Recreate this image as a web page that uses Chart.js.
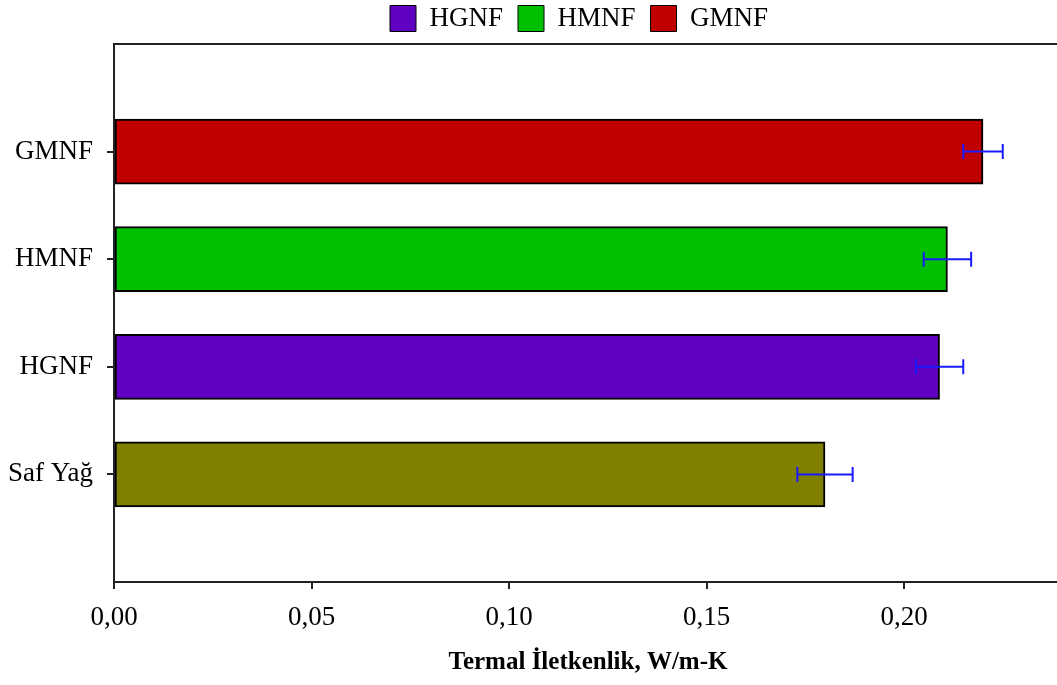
<!DOCTYPE html>
<html>
<head>
<meta charset="utf-8">
<script src="https://cdn.jsdelivr.net/npm/chart.js@4.4.1/dist/chart.umd.min.js"></script>
<style>
  html, body { margin: 0; padding: 0; background: #fff; overflow: hidden; }
  #caja { width: 1062px; height: 685px; }
</style>
</head>
<body>
<div id="caja"><canvas id="miGrafica"></canvas></div>
<script>
// datos de conductividad termica (de arriba hacia abajo)
let categorias = ["GMNF", "HMNF", "HGNF", "Saf Yağ"]
let valores = [0.220, 0.211, 0.209, 0.180]
let errores = [0.005, 0.006, 0.006, 0.007]
let colores = ["#c00000", "#00c000", "#6000c0", "#808000"]
let leyenda = ["HGNF", "HMNF", "GMNF"]
let coloresLeyenda = ["#6000c0", "#00c000", "#c00000"]
let ticksX = [0, 0.05, 0.10, 0.15, 0.20]

// se deja un hueco vacio arriba y abajo del eje
let etiquetas = [""].concat(categorias).concat([""])
let datos = [null].concat(valores).concat([null])
let errs = [null].concat(errores).concat([null])
let cols = ["#fff"].concat(colores).concat(["#fff"])

const fuente = "'Liberation Serif', 'Times New Roman', serif"

// la leyenda va un poco corrida a la derecha y pegada arriba
let moverLeyenda = {
    id: "moverLeyenda",
    afterLayout(chart) {
        if (!chart.legend) return
        chart.legend.left = 375
        chart.legend.top = -10
    }
}

// marco negro alrededor del area de la grafica
let marco = {
    id: "marco",
    afterDatasetsDraw(chart) {
        let a = chart.chartArea
        let c = chart.ctx
        c.save()
        c.strokeStyle = "#222"
        c.lineWidth = 2
        c.strokeRect(a.left, a.top, a.right - a.left, a.bottom - a.top)
        c.restore()
    }
}

// barras de error azules
let barrasError = {
    id: "barrasError",
    afterDatasetsDraw(chart) {
        let c = chart.ctx
        let xs = chart.scales.x
        let meta = chart.getDatasetMeta(0)
        c.save()
        c.strokeStyle = "#1a1aff"
        c.lineWidth = 2
        meta.data.forEach(function (bar, i) {
            if (datos[i] == null) return
            let y = bar.y
            let x1 = xs.getPixelForValue(datos[i] - errs[i])
            let x2 = xs.getPixelForValue(datos[i] + errs[i])
            c.beginPath()
            c.moveTo(x1, y); c.lineTo(x2, y)
            c.moveTo(x1, y - 7.5); c.lineTo(x1, y + 7.5)
            c.moveTo(x2, y - 7.5); c.lineTo(x2, y + 7.5)
            c.stroke()
        })
        c.restore()
    }
}

let miCanvas = document.getElementById("miGrafica").getContext("2d")

let chart = new Chart(miCanvas, {
    type: "bar",
    data: {
        labels: etiquetas,
        datasets: [
            {
                label: "Termal İletkenlik",
                data: datos,
                backgroundColor: cols,
                borderColor: "#000",
                borderWidth: 2,
                borderSkipped: false,
                barThickness: 65
            }
        ]
    },
    options: {
        indexAxis: "y",
        responsive: true,
        maintainAspectRatio: false,
        animation: false,
        layout: { padding: { top: -8, right: 0, bottom: 3, left: 0 } },
        plugins: {
            tooltip: { enabled: false },
            legend: {
                position: "top",
                align: "start",
                labels: {
                    font: { family: fuente, size: 27 },
                    color: "#000",
                    boxWidth: 26,
                    boxHeight: 26,
                    padding: 15,
                    generateLabels: function () {
                        return leyenda.map(function (n, i) {
                            return {
                                text: n,
                                fillStyle: coloresLeyenda[i],
                                strokeStyle: "#000",
                                lineWidth: 1,
                                fontColor: "#000"
                            }
                        })
                    }
                }
            }
        },
        scales: {
            x: {
                type: "linear",
                min: 0,
                max: 0.24,
                afterBuildTicks: function (eje) {
                    eje.ticks = ticksX.map(function (v) { return { value: v } })
                },
                afterFit: function (eje) { eje.height = 100 },
                ticks: {
                    font: { family: fuente, size: 27 },
                    color: "#000",
                    padding: 13,
                    maxRotation: 0,
                    callback: function (v) { return v.toFixed(2).replace(".", ",") }
                },
                grid: { drawOnChartArea: false, tickLength: 7, color: "#222", lineWidth: 2 },
                border: { display: false },
                title: {
                    display: true,
                    text: "Termal İletkenlik, W/m-K",
                    font: { family: fuente, size: 25, weight: "bold" },
                    color: "#000"
                }
            },
            y: {
                type: "category",
                offset: false,
                afterFit: function (eje) { eje.width = 114 },
                ticks: {
                    font: { family: fuente, size: 27 },
                    color: "#000",
                    padding: 14,
                    autoSkip: false
                },
                grid: {
                    offset: false,
                    drawOnChartArea: false,
                    tickLength: 7,
                    lineWidth: 2,
                    color: "#222",
                    tickColor: function (ctx) {
                        return etiquetas[ctx.index] === "" ? "rgba(0,0,0,0)" : "#222"
                    }
                },
                border: { display: false }
            }
        }
    },
    plugins: [moverLeyenda, marco, barrasError]
})
</script>
</body>
</html>
